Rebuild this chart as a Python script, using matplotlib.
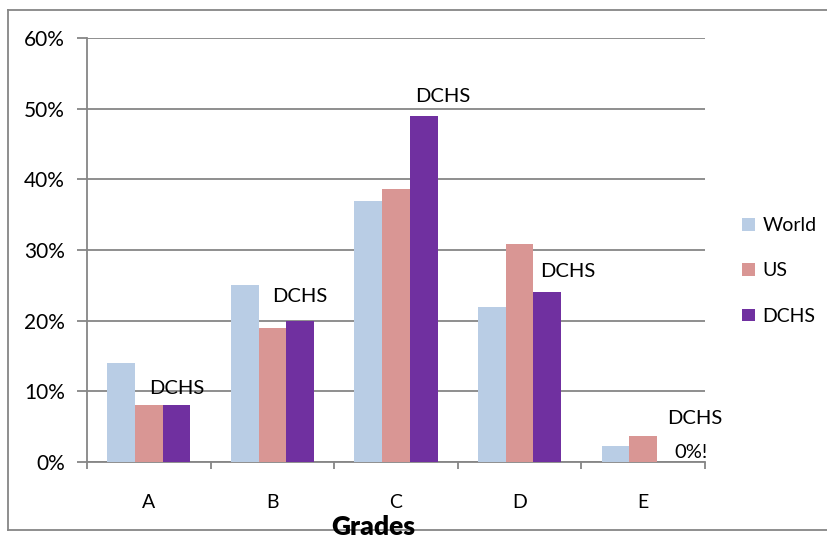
import numpy as np
import matplotlib.pyplot as plt
from matplotlib.lines import Line2D

plt.rcParams['font.family'] = ['Lato', 'DejaVu Sans']

# оцінки та частки (у відсотках)
grades = ['A', 'B', 'C', 'D', 'E']
world = [14, 25, 37, 22, 2.3]
us = [8, 19, 38.7, 30.8, 3.7]
dchs = [8, 20, 49, 24, 0]

series = ['World', 'US', 'DCHS']
colors = ['#B9CDE5', '#D99694', '#7030A0']
grid_col = '#868686'

fig = plt.figure(figsize=(8.28, 5.41), dpi=100)
ax = fig.add_axes([87 / 828, 1 - 462 / 541, 618 / 828, 424 / 541])

x = np.arange(len(grades))
w = 0.224
for j, (vals, name, c) in enumerate(zip([world, us, dchs], series, colors)):
    ax.bar(x + (j - 1) * w, vals, width=w, color=c, label=name, zorder=3)

ax.set_xlim(-0.5, len(grades) - 0.5)
ax.set_ylim(0, 60)
ax.set_yticks(range(0, 61, 10))
ax.set_yticklabels([f'{v}%' for v in range(0, 61, 10)], fontsize=15)
ax.yaxis.grid(True, color=grid_col, lw=1.3, zorder=0)

ax.set_xticks(x)
ax.set_xticklabels(grades, fontsize=14)
ax.set_xticks(np.arange(-0.5, len(grades)), minor=True)
ax.tick_params(axis='x', which='major', length=0, pad=23)
ax.tick_params(axis='x', which='minor', length=5, width=1.3, color=grid_col)
ax.tick_params(axis='y', length=7, width=1.3, color=grid_col, pad=9)

for s in ['top', 'right']:
    ax.spines[s].set_visible(False)
for s in ['left', 'bottom']:
    ax.spines[s].set_color(grid_col)
    ax.spines[s].set_linewidth(1.3)

# підписи DCHS над стовпцями
offsets = [(0, 17), (0, 24), (19, 19), (20, 21), (24, 44)]
for i, (dx, dy) in enumerate(offsets):
    ax.annotate('DCHS', (x[i] + w, dchs[i]), xytext=(dx, dy),
                textcoords='offset pixels', ha='center', va='center', fontsize=14.5)
ax.annotate(f'{dchs[4]}%!', (x[4] + w, dchs[4]), xytext=(20, 10),
            textcoords='offset pixels', ha='center', va='center', fontsize=14.5)

# легенда
fig.legend(loc='center left', bbox_to_anchor=(725 / 828, 1 - 271 / 541),
           frameon=False, fontsize=14, handlelength=0.62, handleheight=0.62,
           handletextpad=0.4, labelspacing=1.45)

# рамка діаграми
fx0, fy0, fy1 = 8 / 828, 1 - 530 / 541, 1 - 10 / 541
for xs, ys in [([fx0, fx0], [fy0, fy1]), ([fx0, 1.01], [fy1, fy1]), ([fx0, 1.01], [fy0, fy0])]:
    fig.add_artist(Line2D(xs, ys, color=grid_col, lw=1.3))

fig.text(373 / 828, 1 - 527 / 541, 'Grades', ha='center', va='center',
         fontsize=19, fontweight='heavy')

plt.savefig('out.png', dpi=100)
